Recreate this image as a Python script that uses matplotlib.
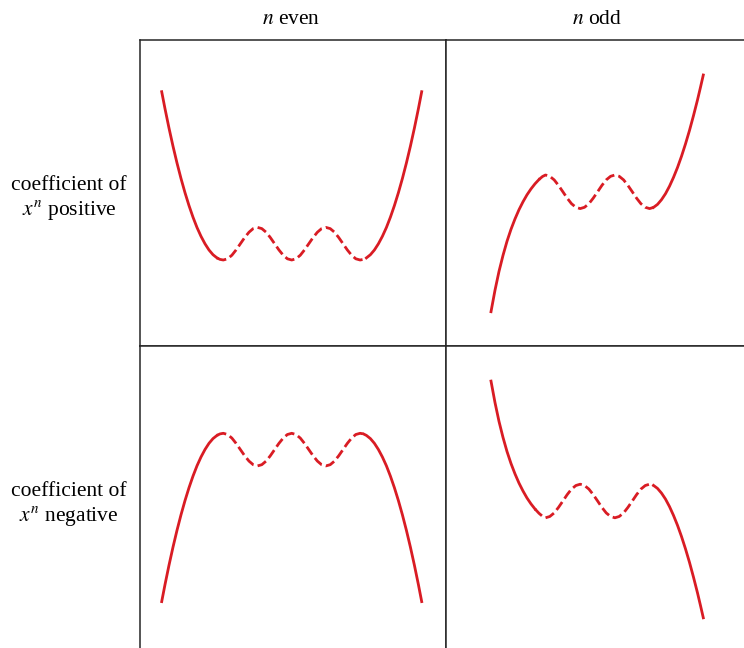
import numpy as np
import matplotlib
matplotlib.use('Agg')
import matplotlib.pyplot as plt

plt.rcParams['font.family'] = ['Liberation Serif', 'DejaVu Serif']
plt.rcParams['mathtext.fontset'] = 'stix'

col_titles = [r'$n$ even', r'$n$ odd']
row_titles = [('coefficient of', r'$x^n$ positive'),
              ('coefficient of', r'$x^n$ negative')]

# curve samples for each panel, in panel units (0-306, y up)
# n even, coefficient positive
even_pos_x = [21.7, 25, 29, 33, 37, 41, 45, 49, 53, 57, 61, 65, 69, 73, 77, 80,
              83.3, 87.6, 91.9, 96.1, 100.4, 104.7, 109.0, 113.2, 117.5, 121.8, 126.1, 130.3,
              134.6, 138.9, 143.2, 147.4, 151.7, 156.0, 160.3, 164.5, 168.8, 173.1, 177.4,
              181.6, 185.9, 190.2, 194.5, 198.7, 203.0, 207.3, 211.6, 215.8, 220.1,
              223.4, 226.4, 230.4, 234.4, 238.4, 242.4, 246.4, 250.4, 254.4, 258.4, 262.4,
              266.4, 270.4, 274.4, 278.4, 281.7]
even_pos_y = [254.3, 237.3, 217.9, 199.8, 183.0, 167.5, 153.3, 140.4, 128.8, 118.5, 109.7, 102.2,
              96.0, 91.3, 88.1, 86.6,
              86.0, 87.2, 90.8, 96.1, 102.3, 108.5, 113.8, 117.4, 118.6, 117.4, 113.8, 108.5,
              102.3, 96.1, 90.8, 87.2, 86.0, 87.2, 90.8, 96.1, 102.3, 108.5, 113.8,
              117.4, 118.6, 117.4, 113.8, 108.5, 102.3, 96.1, 90.8, 87.2, 86.0,
              86.6, 88.1, 91.3, 96.0, 102.2, 109.7, 118.5, 128.8, 140.4, 153.3, 167.5,
              183.0, 199.8, 217.9, 237.3, 254.3]
even_pos_dash = (77, 226.4)

# n even, coefficient negative
even_neg_x = even_pos_x
even_neg_y = [50.4, 67.4, 86.8, 104.9, 121.7, 137.2, 151.4, 164.3, 175.9, 186.2, 195.0, 202.5,
              208.7, 213.4, 216.6, 218.1,
              218.7, 217.5, 213.9, 208.6, 202.4, 196.2, 190.9, 187.3, 186.1, 187.3, 190.9, 196.2,
              202.4, 208.6, 213.9, 217.5, 218.7, 217.5, 213.9, 208.6, 202.4, 196.2, 190.9,
              187.3, 186.1, 187.3, 190.9, 196.2, 202.4, 208.6, 213.9, 217.5, 218.7,
              218.1, 216.6, 213.4, 208.7, 202.5, 195.0, 186.2, 175.9, 164.3, 151.4, 137.2,
              121.7, 104.9, 86.8, 67.4, 50.4]
even_neg_dash = (77, 223.4)

# n odd, coefficient positive
odd_pos_x = [45, 49, 53, 57, 61, 65, 69, 73, 77, 81, 85, 89, 93, 96.5,
             99.5, 103.8, 108.2, 112.5, 116.9, 121.2, 125.5, 129.9, 134.2, 138.5, 142.9, 147.2,
             151.6, 155.9, 160.2, 164.6, 168.9, 173.2, 177.6, 181.9, 186.3, 190.6, 194.9,
             199.3, 203.6,
             207.5, 211.5, 215.5, 219.5, 223.5, 227.5, 231.5, 235.5, 239.5, 243.5, 247.5,
             251.5, 254.5, 257.3]
odd_pos_y = [34.3, 55.8, 74.6, 90.6, 104.7, 116.7, 127.1, 136.3, 144.2, 151.2, 157.1, 162.2,
             166.5, 169.5,
             171, 169.7, 166.1, 160.6, 154.2, 147.8, 142.3, 138.7, 137.4, 138.7, 142.3, 147.8,
             154.2, 160.6, 166.1, 169.7, 171, 169.7, 166.1, 160.6, 154.2, 147.8, 142.3,
             138.7, 137.4,
             138.6, 141.6, 146.3, 152.3, 159.8, 168.6, 178.5, 189.7, 202.1, 215.6, 230.4,
             246.1, 258.8, 271.0]
odd_pos_dash = (93, 207.5)

# n odd, coefficient negative
odd_neg_x = odd_pos_x
odd_neg_y = [270.9, 249.4, 230.6, 214.6, 200.5, 188.5, 178.1, 168.9, 161.0, 154.0, 148.1, 143.0,
             138.7, 135.7,
             134.2, 135.5, 139.1, 144.6, 151, 157.4, 162.9, 166.5, 167.8, 166.5, 162.9, 157.4,
             151, 144.6, 139.1, 135.5, 134.2, 135.5, 139.1, 144.6, 151, 157.4, 162.9,
             166.5, 167.8,
             166.6, 163.6, 158.9, 152.9, 145.4, 136.6, 126.7, 115.5, 103.1, 89.6, 74.8,
             59.1, 46.4, 34.2]
odd_neg_dash = (89, 207.5)

RED = '#d91c24'
GRID = '#262626'

fig = plt.figure(figsize=(7.44, 6.48), dpi=100)

panels = [
    ([140, 346], even_pos_x, even_pos_y, even_pos_dash),
    ([446, 346], odd_pos_x, odd_pos_y, odd_pos_dash),
    ([140, 652], even_neg_x, even_neg_y, even_neg_dash),
    ([446, 652], odd_neg_x, odd_neg_y, odd_neg_dash),
]

for (left, bottom), xs, ys, (lo, hi) in panels:
    ax = fig.add_axes([left / 744, (648 - bottom) / 648, 306 / 744, 306 / 648])
    ax.set_xlim(0, 306)
    ax.set_ylim(0, 306)
    ax.set_xticks([])
    ax.set_yticks([])
    for sp in ax.spines.values():
        sp.set_color(GRID)
        sp.set_linewidth(1.1)
    xs = np.array(xs)
    ys = np.array(ys)
    first = xs <= lo
    middle = (xs >= lo) & (xs <= hi)
    last = xs >= hi
    ax.plot(xs[first], ys[first], color=RED, lw=2)
    ax.plot(xs[middle], ys[middle], color=RED, lw=2, dashes=(3.5, 1.5))
    ax.plot(xs[last], ys[last], color=RED, lw=2)

# column and row headings
fig.text(291 / 744, 1 - 20 / 648, col_titles[0], ha='center', va='center', fontsize=15.5)
fig.text(597 / 744, 1 - 20 / 648, col_titles[1], ha='center', va='center', fontsize=15.5)
for (line1, line2), yc in zip(row_titles, [185, 491]):
    fig.text(69 / 744, 1 - yc / 648, line1, ha='center', va='center', fontsize=15.5)
    fig.text(69 / 744, 1 - (yc + 25) / 648, line2, ha='center', va='center', fontsize=15.5)

fig.savefig('out.png', dpi=100)
